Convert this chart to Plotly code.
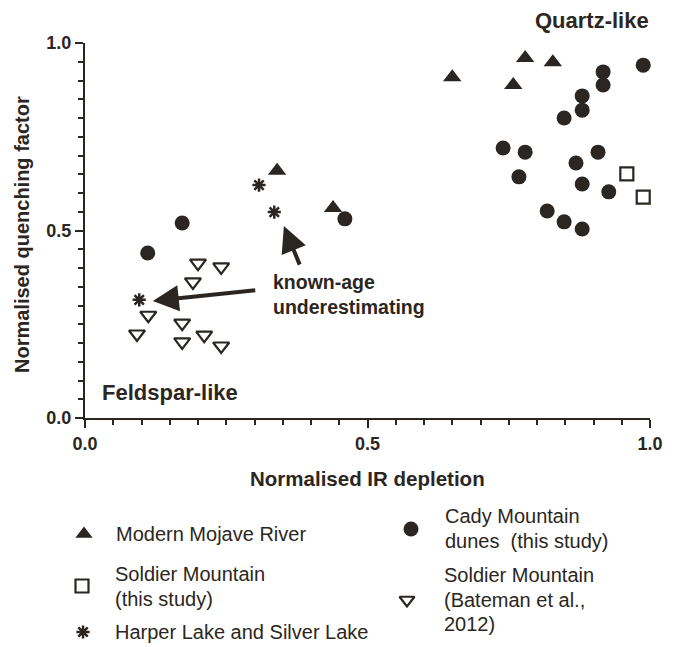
import plotly.graph_objects as go

# ---------------- data ----------------
mojave_x = [0.650, 0.779, 0.828, 0.758, 0.340, 0.439]
mojave_y = [0.909, 0.960, 0.949, 0.888, 0.659, 0.560]

cady_x = [0.988, 0.917, 0.917, 0.880, 0.880, 0.848, 0.740, 0.779, 0.908, 0.869,
          0.768, 0.880, 0.927, 0.818, 0.848, 0.880, 0.172, 0.111, 0.460]
cady_y = [0.941, 0.923, 0.888, 0.859, 0.821, 0.800, 0.720, 0.709, 0.709, 0.680,
          0.643, 0.624, 0.603, 0.552, 0.523, 0.504, 0.520, 0.440, 0.531]

soldier_x = [0.959, 0.988]
soldier_y = [0.651, 0.589]

bateman_x = [0.200, 0.241, 0.191, 0.112, 0.092, 0.172, 0.172, 0.211, 0.241]
bateman_y = [0.413, 0.403, 0.363, 0.274, 0.224, 0.253, 0.203, 0.221, 0.192]

harper_x = [0.308, 0.335, 0.096]
harper_y = [0.621, 0.549, 0.315]

tick_vals = [0.0, 0.5, 1.0]
tick_text = ["0.0", "0.5", "1.0"]

legend_labels = [
    ["Modern Mojave River"],
    ["Cady Mountain", "dunes  (this study)"],
    ["Soldier Mountain", "(this study)"],
    ["Soldier Mountain", "(Bateman et al.,", "2012)"],
    ["Harper Lake and Silver Lake"],
]

# ---------------- style ----------------
INK = "#2b2621"
FONT = "Liberation Sans, Arial, sans-serif"
W, H = 676, 647
PX0, PX1, PY0, PY1 = 85, 650, 43, 418   # plot-area pixel box


def fx(px):
    return px / W


def fy(py):
    return 1 - py / H


fig = go.Figure()

common = dict(mode="markers", showlegend=False, cliponaxis=False, hoverinfo="x+y",
              xaxis="x", yaxis="y")
fig.add_trace(go.Scatter(x=mojave_x, y=mojave_y, name="Modern Mojave River",
                         marker=dict(symbol="triangle-up", size=16, color=INK,
                                     line=dict(width=0)), **common))
fig.add_trace(go.Scatter(x=cady_x, y=cady_y, name="Cady Mountain dunes",
                         marker=dict(symbol="circle", size=15, color=INK,
                                     line=dict(width=0)), **common))
fig.add_trace(go.Scatter(x=soldier_x, y=soldier_y, name="Soldier Mountain (this study)",
                         marker=dict(symbol="square-open", size=13, color=INK,
                                     line=dict(width=2.2, color=INK)), **common))
fig.add_trace(go.Scatter(x=bateman_x, y=bateman_y, name="Soldier Mountain (Bateman)",
                         marker=dict(symbol="triangle-down-open", size=14, color=INK,
                                     line=dict(width=2.2, color=INK)), **common))
fig.add_trace(go.Scatter(x=harper_x, y=harper_y, name="Harper Lake and Silver Lake",
                         marker=dict(symbol="asterisk-open", size=11, color=INK,
                                     line=dict(width=2.5, color=INK)), **common))

# ---------------- custom legend (pixel layout on a hidden overlay axis) ----------------
leg_sym = [
    ("triangle-up", 15, 0, 84, 534),
    ("circle", 15, 0, 411, 529),
    ("square-open", 13, 2.2, 82, 586),
    ("triangle-down-open", 13, 2.2, 407, 600),
    ("asterisk-open", 11, 2.5, 83, 632),
]
for sym, sz, lw, px, py in leg_sym:
    fig.add_trace(go.Scatter(x=[px], y=[py], mode="markers", xaxis="x2", yaxis="y2",
                             showlegend=False, cliponaxis=False, hoverinfo="skip",
                             marker=dict(symbol=sym, size=sz, color=INK,
                                         line=dict(width=lw, color=INK))))

# (left x, y of first line) for each legend entry; line spacing in px
leg_txt = [(114, 534), (443, 516), (113, 574), (442, 575), (113, 632)]
LINE = 24.5

annotations = []


def note(text, px, py, size, xanchor="center", **kw):
    return dict(x=fx(px), y=fy(py), xref="paper", yref="paper", text=text,
                showarrow=False, xanchor=xanchor, yanchor="middle",
                font=dict(family=FONT, size=size, color=INK), **kw)


for lines, (px, py) in zip(legend_labels, leg_txt):
    for i, ln in enumerate(lines):
        annotations.append(note(ln, px, py + i * LINE, 20, xanchor="left"))

# region labels
annotations.append(note("<b>Quartz-like</b>", 592, 20, 22))
annotations.append(note("<b>Feldspar-like</b>", 170, 392, 22))
annotations.append(note("<b>known-age</b>", 271, 282, 19.5, xanchor="left"))
annotations.append(note("<b>underestimating</b>", 271, 307, 19.5, xanchor="left"))

# axis titles
annotations.append(note("<b>Normalised IR depletion</b>", 367, 479, 20.5))
annotations.append(note("<b>Normalised quenching factor</b>", 22, 235, 20, textangle=-90))

# arrows
annotations.append(dict(x=0.120, y=0.312, ax=0.304, ay=0.341, xref="x", yref="y",
                        axref="x", ayref="y", text="", showarrow=True,
                        arrowhead=2, arrowsize=1.3, arrowwidth=4, arrowcolor=INK))
annotations.append(dict(x=0.352, y=0.512, ax=0.381, ay=0.405, xref="x", yref="y",
                        axref="x", ayref="y", text="", showarrow=True,
                        arrowhead=2, arrowsize=1.3, arrowwidth=4, arrowcolor=INK))

axis_common = dict(
    range=[0, 1], tickvals=tick_vals, ticktext=tick_text, ticks="outside",
    ticklen=8, tickwidth=2, tickcolor=INK, showline=True, linewidth=2,
    linecolor=INK, showgrid=False, zeroline=False, fixedrange=True, automargin=False,
    tickfont=dict(family=FONT, size=18, color=INK, weight="bold"),
    minor=dict(dtick=0.05, tick0=0, ticks="outside", ticklen=5, tickwidth=2,
               tickcolor=INK, showgrid=False),
)

fig.update_layout(
    width=W, height=H,
    margin=dict(l=0, r=0, t=0, b=0, pad=0, autoexpand=False),
    paper_bgcolor="white", plot_bgcolor="rgba(0,0,0,0)",
    xaxis=dict(domain=[PX0 / W, PX1 / W], anchor="y", **axis_common),
    yaxis=dict(domain=[1 - PY1 / H, 1 - PY0 / H], anchor="x", **axis_common),
    xaxis2=dict(domain=[0, 1], range=[0, W], visible=False, anchor="y2",
                fixedrange=True, automargin=False),
    yaxis2=dict(domain=[0, 1], range=[H, 0], visible=False, anchor="x2",
                fixedrange=True, automargin=False),
    annotations=annotations,
    showlegend=False,
)

# small extension of the y-axis line below the origin
fig.add_shape(type="line", xref="x", yref="y", x0=0, x1=0, y0=0, y1=-0.02,
              line=dict(color=INK, width=2))

fig.write_html("out.html")
